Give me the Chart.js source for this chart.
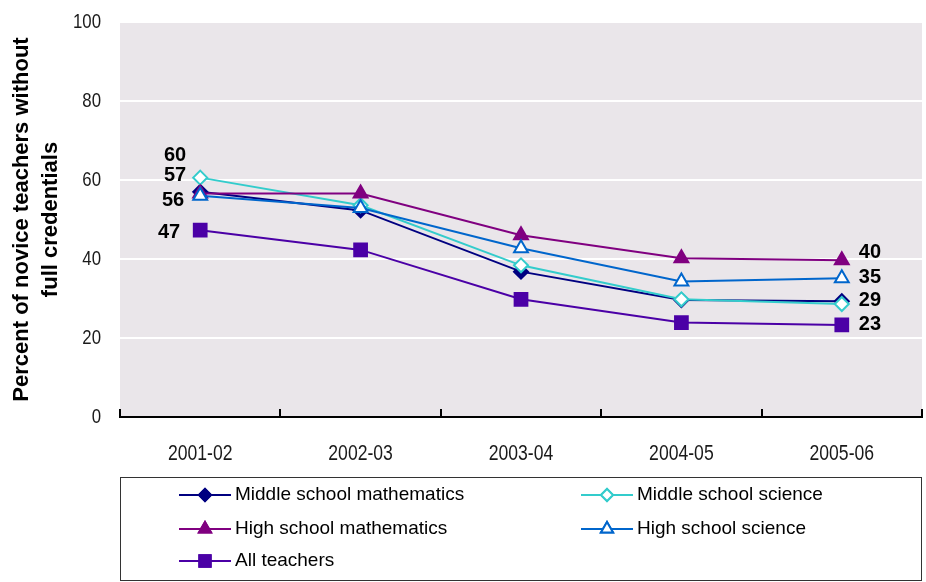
<!DOCTYPE html>
<html>
<head>
<meta charset="utf-8">
<script src="https://cdn.jsdelivr.net/npm/chart.js@4"></script>
<style>
  html, body { margin: 0; padding: 0; background: #fff; }
  #wrap { width: 926px; height: 582px; }
</style>
</head>
<body>
<div id="wrap"><canvas id="chart" width="926" height="582"></canvas></div>
<script>
  // data
  const years = ['2001-02', '2002-03', '2003-04', '2004-05', '2005-06'];
  const seriesNames = ['Middle school mathematics', 'Middle school science', 'High school mathematics', 'High school science', 'All teachers'];
  const msMath = [57, 52.3, 36.8, 29.6, 29.3];
  const msScience = [60.6, 53.6, 38.4, 29.8, 28.6];
  const hsMath = [56.6, 56.6, 46, 40.2, 39.7];
  const hsScience = [56, 52.9, 42.7, 34.3, 35.1];
  const allTeachers = [47.3, 42.3, 29.8, 23.9, 23.3];
  const yTicks = [0, 20, 40, 60, 80, 100];
  // value labels at the first and last year ('' = none)
  const startLabels = ['57', '60', '', '56', '47'];
  const endLabels = ['29', '', '40', '35', '23'];

  const sans = "'Liberation Sans', Arial, sans-serif";

  const styles = [
    { color: '#000080', fill: '#000080', point: 'rectRot', r: 7 },
    { color: '#33CCCC', fill: '#ffffff', point: 'rectRot', r: 7 },
    { color: '#800080', fill: '#800080', point: 'triangle', r: 8 },
    { color: '#0066CC', fill: '#ffffff', point: 'triangle', r: 8 },
    { color: '#4B00A6', fill: '#4B00A6', point: 'rect', r: 9 }
  ];
  // label offsets in px from the point (dx, dy)
  const startOffsets = [[-14, -16], [-14, -22], null, [-16, 5], [-20, 2]];
  const endOffsets = [[17, -1], null, [17, -8], [17, -1], [17, 0]];

  const values = [msMath, msScience, hsMath, hsScience, allTeachers];

  const datasets = values.map((v, i) => ({
    label: seriesNames[i],
    data: v,
    borderColor: styles[i].color,
    backgroundColor: styles[i].fill,
    pointBackgroundColor: styles[i].fill,
    pointBorderColor: styles[i].color,
    pointBorderWidth: 2,
    pointStyle: styles[i].point,
    pointRadius: styles[i].r,
    pointHoverRadius: styles[i].r,
    borderWidth: 2,
    tension: 0,
    order: 5 - i
  }));

  // narrow tick text (Arial Narrow look) by squeezing Liberation Sans
  function narrowText(ctx, text, x, y, size, align) {
    ctx.save();
    ctx.translate(x, y);
    ctx.scale(0.8, 1);
    ctx.font = size + 'px ' + sans;
    ctx.textAlign = align;
    ctx.textBaseline = 'middle';
    ctx.fillStyle = '#1a1a1a';
    ctx.fillText(text, 0, 0);
    ctx.restore();
  }

  const plotBg = {
    id: 'plotBg',
    beforeDraw(chart) {
      const { ctx, chartArea: a } = chart;
      ctx.save();
      ctx.fillStyle = '#EAE6EA';
      ctx.fillRect(a.left, a.top, a.right - a.left, a.bottom - a.top);
      ctx.restore();
    },
    afterDraw(chart) {
      const { ctx, chartArea: a } = chart;
      const x = chart.scales.x, y = chart.scales.y;
      const step = x.getPixelForValue(1) - x.getPixelForValue(0);
      ctx.save();
      ctx.strokeStyle = '#000';
      ctx.lineWidth = 2;
      for (let i = 0; i <= years.length; i++) {
        const px = Math.round(x.getPixelForValue(i) - step / 2);
        ctx.beginPath();
        ctx.moveTo(px, a.bottom);
        ctx.lineTo(px, a.bottom - 8);
        ctx.stroke();
      }
      ctx.restore();
      years.forEach((lab, i) => narrowText(ctx, lab, x.getPixelForValue(i), a.bottom + 37, 22, 'center'));
      yTicks.forEach(v => narrowText(ctx, String(v), a.left - 19, y.getPixelForValue(v), 21, 'right'));
    }
  };

  const valueLabels = {
    id: 'valueLabels',
    afterDatasetsDraw(chart) {
      const ctx = chart.ctx;
      ctx.save();
      ctx.font = 'bold 20px ' + sans;
      ctx.fillStyle = '#000';
      ctx.textBaseline = 'middle';
      const last = years.length - 1;
      values.forEach((v, i) => {
        const pts = chart.getDatasetMeta(i).data;
        if (startLabels[i] && startOffsets[i]) {
          ctx.textAlign = 'right';
          ctx.fillText(startLabels[i], pts[0].x + startOffsets[i][0], pts[0].y + startOffsets[i][1]);
        }
        if (endLabels[i] && endOffsets[i]) {
          ctx.textAlign = 'left';
          ctx.fillText(endLabels[i], pts[last].x + endOffsets[i][0], pts[last].y + endOffsets[i][1]);
        }
      });
      ctx.restore();
    }
  };

  const boxLegend = {
    id: 'boxLegend',
    afterDraw(chart) {
      const ctx = chart.ctx;
      ctx.save();
      ctx.strokeStyle = '#333';
      ctx.lineWidth = 1;
      ctx.strokeRect(120.5, 477.5, 801, 103);
      const cols = [179, 581];
      const rows = [495, 529, 561];
      ctx.font = '19px ' + sans;
      ctx.textBaseline = 'middle';
      ctx.textAlign = 'left';
      seriesNames.forEach((name, i) => {
        const x = cols[i % 2], y = rows[Math.floor(i / 2)];
        const s = styles[i];
        ctx.strokeStyle = s.color;
        ctx.lineWidth = 2;
        ctx.beginPath();
        ctx.moveTo(x, y);
        ctx.lineTo(x + 52, y);
        ctx.stroke();
        Chart.helpers.drawPoint(ctx, {
          pointStyle: s.point, radius: s.r - 1, rotation: 0, borderWidth: 2
        }, x + 26, y);
        ctx.fillStyle = s.fill;
        ctx.fill();
        ctx.stroke();
        ctx.fillStyle = '#000';
        ctx.fillText(name, x + 56, y);
      });
      ctx.restore();
    }
  };

  new Chart(document.getElementById('chart'), {
    type: 'line',
    data: { labels: years, datasets: datasets },
    options: {
      responsive: false,
      animation: false,
      devicePixelRatio: 1,
      layout: { autoPadding: false, padding: { top: 22, right: 4, left: 0, bottom: 0 } },
      plugins: {
        legend: { display: false },
        tooltip: { enabled: false }
      },
      scales: {
        x: {
          offset: true,
          grid: { display: false, drawTicks: false },
          border: { display: true, color: '#000', width: 2 },
          ticks: { display: false },
          afterFit(scale) { scale.height = 165; }
        },
        y: {
          min: 0,
          max: 100,
          afterBuildTicks(scale) { scale.ticks = yTicks.map(v => ({ value: v })); },
          grid: { color: '#ffffff', lineWidth: 2, drawTicks: false },
          border: { display: false },
          ticks: { display: false },
          title: {
            display: true,
            text: ['Percent of novice teachers without', 'full credentials'],
            color: '#000',
            font: { family: sans, size: 22, weight: 'bold', lineHeight: 1.3 },
            padding: { top: 8, bottom: 0 }
          },
          afterFit(scale) { scale.width = 120; }
        }
      }
    },
    plugins: [plotBg, valueLabels, boxLegend]
  });
</script>
</body>
</html>
